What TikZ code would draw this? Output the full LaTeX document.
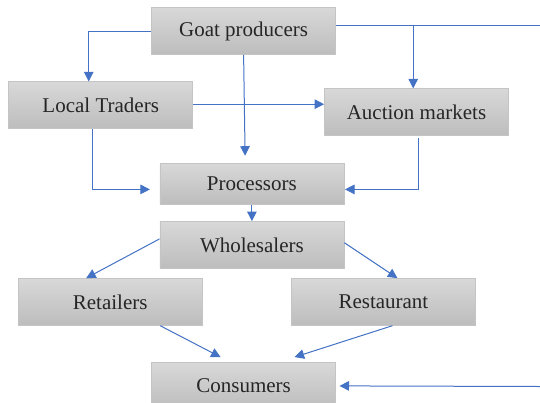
\documentclass[tikz,border=0pt]{standalone}
\usepackage{fontspec}
\setmainfont{Liberation Serif}
\newfontfamily\boxfont{Liberation Serif}
\usetikzlibrary{arrows.meta,calc}
\definecolor{arrblue}{HTML}{4472C4}
\definecolor{boxtop}{HTML}{D8D8D8}
\definecolor{boxbot}{HTML}{BDBDBD}
\definecolor{boxline}{HTML}{C4C4C4}
\definecolor{txt}{HTML}{262626}
\tikzset{
  box/.style={draw=boxline, line width=0.8pt, top color=boxtop, bottom color=boxbot,
    minimum width=184pt, minimum height=46.8pt, inner sep=0pt, text=txt,
    font=\boxfont\fontsize{21}{25}\selectfont},
  arr/.style={draw=arrblue, line width=1pt, -{Triangle[length=9.5pt,width=9.5pt]}},
  plainline/.style={draw=arrblue, line width=1pt}
}
\begin{document}
\begin{tikzpicture}[x=1pt,y=-1pt]
\useasboundingbox (0,0) rectangle (540,402);
\clip (0,0) rectangle (540,402);
\node[box] (goat) at (243.6,31) {Goat producers};
\node[box] (local) at (100.7,105.2) {Local Traders};
\node[box] (auction) at (416.5,112.2) {Auction markets};
\node[box, minimum height=41pt] (proc) at (251.9,183.6) {Processors};
\node[box] (whole) at (251.9,244.9) {Wholesalers};
\node[box] (ret) at (110.2,301.9) {Retailers};
\node[box] (rest) at (383.4,301.9) {Restaurant};
\node[box] (cons) at (243.6,385.9) {Consumers};
\coordinate (gE) at ($(goat.east)+(0,-5.5)$);
\coordinate (rt) at (540,25.5);
\coordinate (rc) at (540,386.5);
\coordinate (aN) at ($(auction.north)+(-3.3,0)$);
% goat producers -> local traders
\draw[arr] (goat.west) -| ($(local.north)+(-12,0)$);
% goat producers -> right edge, branch to auction
\draw[plainline] (gE) -- (rt);
\draw[arr] (aN |- gE) -- (aN);
% goat producers -> processors
\draw[arr] (goat.south) -- ($(goat.south |- proc.north)+(1.5,-7)$);
% local traders -> auction
\draw[arr] ($(local.east)+(0,-1)$) -- ($(local.east -| auction.west)+(0,-1)$);
% local traders -> processors
\draw[arr] ($(local.south)+(-8.4,0)$) |- ($(proc.west)+(-9.6,5.8)$);
% auction -> processors
\draw[arr] ($(auction.south)+(1.5,2)$) |- ($(proc.east)+(0.7,5.8)$);
% processors -> wholesalers
\draw[arr] (proc.south) -- (whole.north);
% wholesalers -> retailers / restaurant
\draw[arr] ($(whole.west)+(0,-6)$) -- ($(ret.north)+(-24,0)$);
\draw[arr] ($(whole.east)+(0,-2.2)$) -- ($(rest.north)+(14,0)$);
% retailers / restaurant -> consumers
\draw[arr] ($(ret.south)+(50,0)$) -- ($(cons.north)+(-23,-5)$);
\draw[arr] ($(rest.south)+(9,0)$) -- ($(cons.north)+(51,-5)$);
% right edge -> consumers
\draw[arr] (rc) -- ($(cons.east)+(3.5,0)$);
\end{tikzpicture}
\end{document}
